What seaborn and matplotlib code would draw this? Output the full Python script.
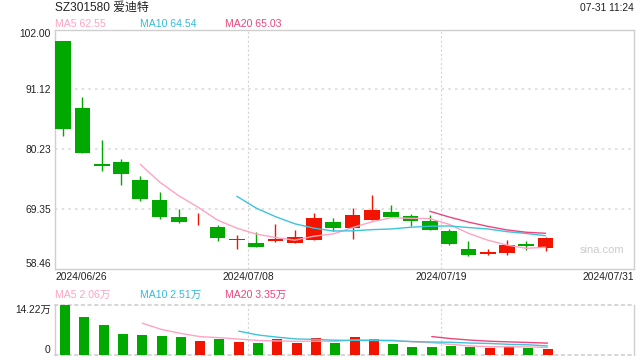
import numpy as np
import pandas as pd
import matplotlib
matplotlib.use('Agg')
import matplotlib.pyplot as plt
import matplotlib.transforms as mtransforms
import seaborn as sns

# 日K数据
opens = [99.9, 87.8, 77.6, 78.0, 74.6, 70.95, 67.9, 66.55, 66.1, 63.7, 63.15, 63.5, 63.25,
         63.7, 66.95, 65.95, 67.4, 68.8, 68.05, 67.15, 65.35, 62.1, 61.2, 61.4, 63.05, 62.25]
highs = [100.0, 89.8, 82.0, 78.4, 75.35, 72.5, 69.3, 68.55, 66.45, 64.6, 65.2, 66.55, 65.5,
         68.65, 67.7, 69.55, 72.0, 70.05, 68.5, 68.25, 65.7, 63.55, 62.05, 63.7, 63.55, 64.25]
lows = [82.7, 79.5, 76.3, 73.7, 70.8, 67.6, 66.85, 66.5, 63.6, 62.1, 62.5, 63.35, 63.2,
        63.7, 65.4, 64.0, 67.4, 67.85, 66.25, 65.6, 62.8, 60.85, 61.05, 60.95, 61.95, 61.7]
closes = [84.0, 79.5, 77.15, 75.7, 71.1, 67.9, 67.0, 66.65, 64.1, 63.8, 62.5, 63.9, 64.2,
          67.7, 65.9, 68.25, 69.15, 67.9, 67.2, 65.6, 63.05, 61.05, 61.6, 62.75, 62.65, 64.05]
volumes = [14.22, 10.7, 8.4, 5.9, 5.6, 5.3, 5.0, 3.9, 4.4, 3.6, 3.3, 4.4, 3.3,
           4.7, 3.3, 5.0, 4.5, 3.1, 2.3, 2.2, 2.5, 2.3, 2.0, 2.3, 2.0, 1.7]  # 万

price_ticks = [58.46, 69.35, 80.23, 91.12, 102.00]
vol_max = 14.22
date_labels = ['2024/06/26', '2024/07/08', '2024/07/19', '2024/07/31']
date_pos = [0, 10, 20, 30]
n_slots = 30

GREEN = '#00a800'
RED = '#f31400'
C_MA5 = '#ffa3c2'
C_MA10 = '#3ec3dd'
C_MA20 = '#ec457c'
GRID = '#d4d4d4'

sns.set_style('white')
plt.rcParams['font.family'] = ['Liberation Sans', 'Noto Sans CJK SC', 'DejaVu Sans']

df = pd.DataFrame({'open': opens, 'high': highs, 'low': lows, 'close': closes, 'vol': volumes})
df['x'] = np.arange(len(df)) + 0.42
df['xv'] = np.arange(len(df)) + 0.52
df['up'] = df['close'] >= df['open']
df['color'] = np.where(df['up'], RED, GREEN)

fig = plt.figure(figsize=(6.4, 3.6), dpi=100)
ax = fig.add_axes([55 / 640, 1 - 269 / 360, 579 / 640, 239.5 / 360])
axv = fig.add_axes([55 / 640, 1 - 354.7 / 360, 579 / 640, 50 / 360])

# --- candles
ax.vlines(df['x'], df['low'], df['high'], colors=df['color'], linewidth=1.0, zorder=3)
body_h = (df['close'] - df['open']).abs().clip(lower=0.18)
body_b = df[['open', 'close']].min(axis=1)
ax.bar(df['x'], body_h, bottom=body_b, width=0.81, color=df['color'], linewidth=0, zorder=4)

for win, col in [(5, C_MA5), (10, C_MA10), (20, C_MA20)]:
    ma = df['close'].rolling(win).mean().dropna()
    sns.lineplot(x=df.loc[ma.index, 'x'], y=ma, ax=ax, color=col, linewidth=1.0, zorder=5)
    mv = df['vol'].rolling(win).mean().dropna()
    sns.lineplot(x=df.loc[mv.index, 'xv'], y=mv, ax=axv, color=col, linewidth=1.0, zorder=5)

# --- volume
axv.bar(df['xv'], df['vol'], width=0.52, color=df['color'], linewidth=0, zorder=3)

ax.set_xlim(0, n_slots)
ax.set_ylim(price_ticks[0], price_ticks[-1])
axv.set_xlim(0, n_slots)
axv.set_ylim(0, vol_max)

for a in (ax, axv):
    a.set_xlabel('')
    a.set_ylabel('')
    a.set_xticks([])
    for p in date_pos[1:3]:
        a.axvline(p, color=GRID, linestyle=(0, (2, 2)), linewidth=0.8, zorder=1)
    for s in a.spines.values():
        s.set_color('#cfcfcf')
        s.set_linewidth(1.0)

for t in price_ticks[1:-1]:
    ax.axhline(t, color='#dcdcdc', linestyle=(0, (1.5, 2.5)), linewidth=1.2, zorder=1)
axv.spines['top'].set_linestyle((0, (1.5, 2.5)))
axv.spines['bottom'].set_linestyle((0, (1.5, 2.5)))
axv.spines['top'].set_linewidth(1.2)
axv.spines['bottom'].set_linewidth(1.2)

ax.set_yticks(price_ticks)
ax.set_yticklabels(['%.2f' % t for t in price_ticks])
ax.tick_params(axis='y', length=0, pad=3, labelsize=7.4, labelcolor='#222222')
labs = ax.get_yticklabels()
labs[0].set_va('bottom')
labs[-1].set_va('top')

axv.set_yticks([0, vol_max])
axv.set_yticklabels(['0', '%.2f万' % vol_max])
axv.tick_params(axis='y', length=0, pad=3, labelsize=7.4, labelcolor='#222222')
vlabs = axv.get_yticklabels()
vlabs[0].set_va('bottom')
vlabs[1].set_va('top')

# --- texts
def fy(py):
    return 1 - py / 360

def fx(px):
    return px / 640

fig.text(fx(55), fy(7.5), 'SZ301580 爱迪特', fontsize=8.6, color='#222222', va='center', ha='left')
fig.text(fx(634), fy(8), '07-31 11:24', fontsize=7.4, color='#222222', va='center', ha='right')

for px, txt, col in [(55, 'MA5 62.55', C_MA5), (140, 'MA10 64.54', '#33bbdd'), (225, 'MA20 65.03', C_MA20)]:
    fig.text(fx(px), fy(24), txt, fontsize=7.6, color=col, va='center', ha='left')
for px, txt, col in [(55, 'MA5 2.06万', C_MA5), (140, 'MA10 2.51万', '#33bbdd'), (225, 'MA20 3.35万', C_MA20)]:
    fig.text(fx(px), fy(295), txt, fontsize=7.6, color=col, va='center', ha='left')

trans = mtransforms.blended_transform_factory(ax.transData, fig.transFigure)
aligns = ['left', 'center', 'center', 'right']
for p, lab, ha in zip(date_pos, date_labels, aligns):
    ax.text(p, fy(277), lab, transform=trans, fontsize=7.4, color='#222222', ha=ha, va='center',
            clip_on=False)

fig.text(fx(602), fy(250), 'sina.com', fontsize=8, color='#cccccc', ha='center', va='center')

fig.savefig('out.png', dpi=100)
